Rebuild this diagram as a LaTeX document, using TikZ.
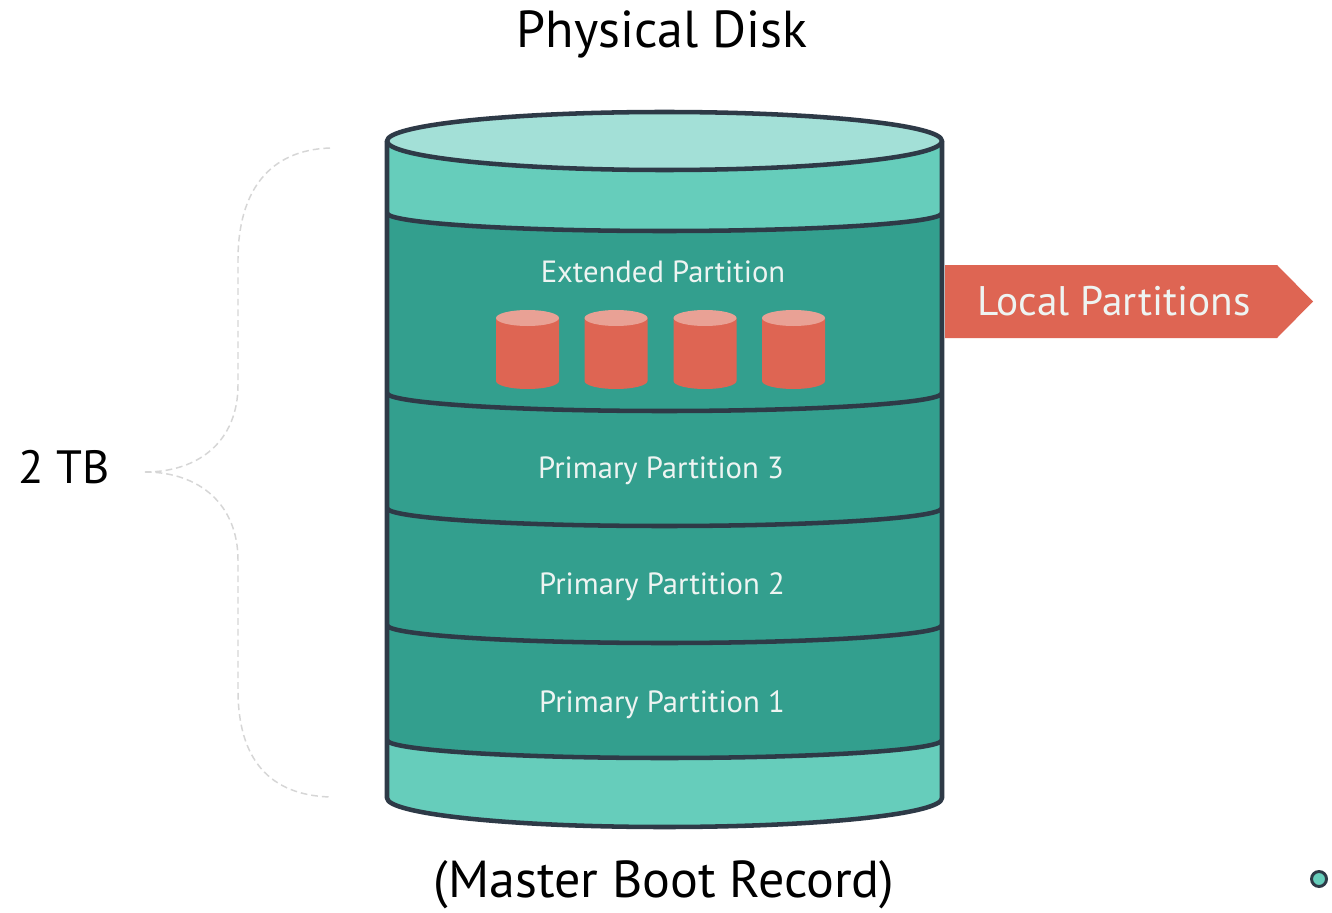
\documentclass[tikz,border=0pt]{standalone}
\usepackage{fontspec}
\setmainfont{PT Sans}
\begin{document}
\begin{tikzpicture}[x=0.75pt,y=-0.75pt,
  outline/.style={draw=diskline,line width=3.4pt,line join=round},
  bandtext/.style={text=bandfont,font=\fontsize{23}{26}\selectfont,inner sep=0pt,anchor=center},
  bigtext/.style={text=black,font=\fontsize{39}{44}\selectfont,inner sep=0pt,anchor=center},
  bracepath/.style={draw=braceline,line width=1.1pt,dash pattern=on 5pt off 3pt}]
\definecolor{diskline}{HTML}{2E3A47}
\definecolor{disklight}{HTML}{66CDBB}
\definecolor{disktop}{HTML}{A3E0D7}
\definecolor{diskdark}{HTML}{3AAC9A}
\definecolor{diskedge}{HTML}{339F8E}
\definecolor{volbody}{HTML}{DE6553}
\definecolor{voltop}{HTML}{E9A195}
\definecolor{bandfont}{HTML}{EEF4F2}
\definecolor{braceline}{HTML}{D6D6D6}

% canvas
\fill[white] (0,0) rectangle (1332,913);
\path[use as bounding box] (0,0) rectangle (1332,913);

% disk body (light)
\fill[disklight] (387,141) -- (387,798)
  arc[start angle=180,end angle=0,x radius=277.5,y radius=29] -- (942,141) -- cycle;
% partition area (dark, slightly darker towards the sides)
\shade[left color=diskedge,middle color=diskdark,right color=diskedge] (387,213)
  arc[start angle=180,end angle=0,x radius=277.5,y radius=18] -- (942,740)
  arc[start angle=0,end angle=180,x radius=277.5,y radius=18] -- cycle;
% band boundaries
\foreach \yy in {213,393,508,625,740}
  \draw[outline] (387,\yy) arc[start angle=180,end angle=0,x radius=277.5,y radius=18];
% disk outline and lid
\draw[outline] (387,141) -- (387,798)
  arc[start angle=180,end angle=0,x radius=277.5,y radius=29] -- (942,141);
\draw[outline,fill=disktop] (664.5,141) ellipse[x radius=277.5,y radius=29];

% logical volumes inside the extended partition
\foreach \cx in {527.5,616,705,793.5}{
  \fill[volbody] (\cx-31.5,318) -- (\cx-31.5,381)
    arc[start angle=180,end angle=0,x radius=31.5,y radius=8] -- (\cx+31.5,318) -- cycle;
  \fill[voltop] (\cx,318) ellipse[x radius=31.5,y radius=8];
}

% band labels
\node[bandtext] (ext) at (663,272) {Extended Partition};
\node[bandtext] (pp3) at (661,471) {Primary Partition 3};
\node[bandtext] (pp2) at (662,587) {Primary Partition 2};
\node[bandtext] (pp1) at (662,705) {Primary Partition 1};

% titles
\node[bigtext] (title) at (662,34) {Physical Disk};
\node[bigtext] (mbr) at (664,885) {(Master Boot Record)};
\node[bigtext,font=\fontsize{35}{40}\selectfont,anchor=west] (size) at (18,467) {2 TB};

% local partitions arrow
\fill[volbody] (945,265) -- (1277,265) -- (1313,301.5) -- (1277,338) -- (945,338) -- cycle;
\node[text=bandfont,font=\fontsize{31}{34}\selectfont,inner sep=0pt,anchor=west] (local) at (977,301.5) {Local Partitions};

% size brace
\coordinate (btop) at (330,148);
\coordinate (btip) at (145,472);
\coordinate (bbot) at (330,797);
\draw[bracepath] (btop) .. controls (270,150) and (238,190) .. (238,260)
  -- (238,385) .. controls (238,440) and (200,472) .. (btip);
\draw[bracepath] (btip) .. controls (200,472) and (238,505) .. (238,560)
  -- (238,690) .. controls (238,760) and (270,795) .. (bbot);

% corner dot
\draw[draw=diskline,line width=2.2pt,fill=disklight] (1319,879) circle[radius=7.5];
\end{tikzpicture}
\end{document}
